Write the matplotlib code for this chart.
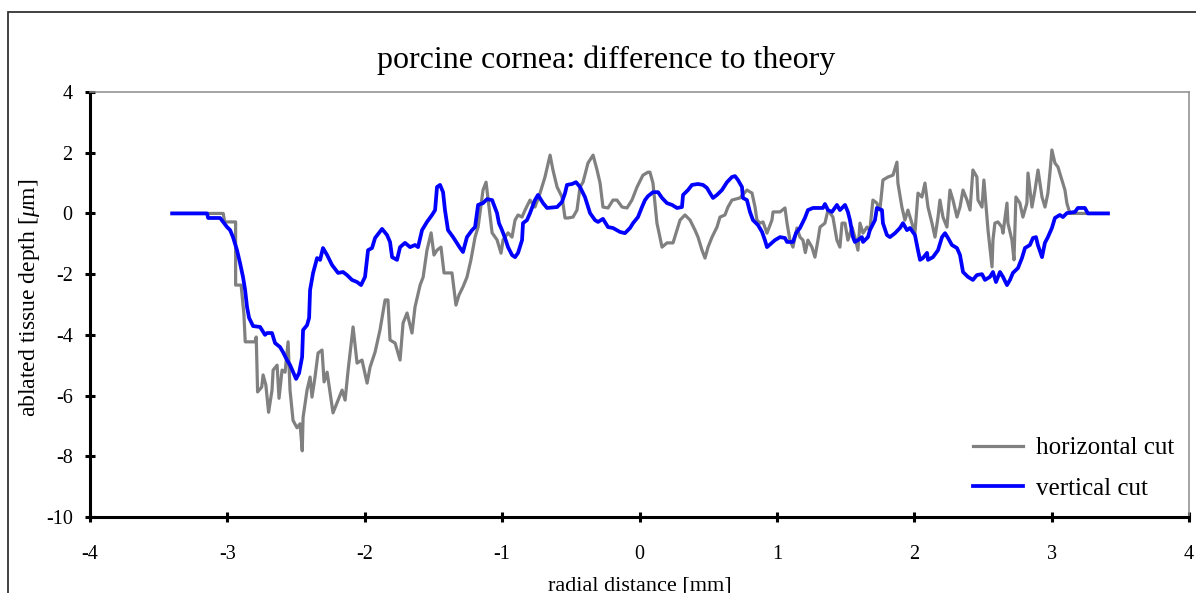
import numpy as np
import matplotlib
matplotlib.use('Agg')
import matplotlib.pyplot as plt
from matplotlib.patches import Rectangle

plt.rcParams['font.family'] = ['Liberation Serif', 'DejaVu Serif']
plt.rcParams['axes.unicode_minus'] = False
plt.rcParams['mathtext.fontset'] = 'custom'
plt.rcParams['mathtext.rm'] = 'Liberation Serif'
plt.rcParams['mathtext.it'] = 'Liberation Serif:italic'

# (radial distance [mm], depth difference [um]) along each cut
HORIZONTAL_CUT = [
    (-3.40, 0.00), (-3.03, 0.00), (-3.02, -0.28), (-2.94, -0.28), (-2.94, -2.36), (-2.90, -2.36), (-2.88, -3.30), (-2.87, -4.23), (-2.80, -4.23), (-2.79, -4.07),
    (-2.78, -5.88), (-2.75, -5.72), (-2.74, -5.32), (-2.72, -5.65), (-2.70, -6.55), (-2.675, -5.82), (-2.667, -5.16), (-2.638, -5.00), (-2.624, -6.09), (-2.602, -5.16),
    (-2.580, -5.23), (-2.558, -4.23), (-2.544, -5.82), (-2.522, -6.82), (-2.493, -7.06), (-2.471, -6.93), (-2.455, -7.82), (-2.449, -6.72), (-2.420, -5.82), (-2.398, -5.39),
    (-2.384, -6.05), (-2.362, -5.39), (-2.340, -4.60), (-2.311, -4.50), (-2.296, -5.55), (-2.274, -5.23), (-2.231, -6.57), (-2.194, -6.15), (-2.165, -5.82), (-2.143, -6.15),
    (-2.121, -5.16), (-2.085, -3.74), (-2.056, -4.93), (-2.020, -4.83), (-1.983, -5.59), (-1.961, -5.06), (-1.925, -4.57), (-1.889, -3.84), (-1.852, -2.85), (-1.831, -2.85),
    (-1.816, -4.17), (-1.779, -4.27), (-1.743, -4.83), (-1.721, -3.61), (-1.692, -3.28), (-1.656, -3.94), (-1.634, -3.08), (-1.597, -2.36), (-1.575, -2.10), (-1.547, -1.21),
    (-1.517, -0.64), (-1.496, -1.37), (-1.474, -1.21), (-1.445, -1.11), (-1.423, -1.96), (-1.365, -1.96), (-1.336, -3.02), (-1.314, -2.69), (-1.285, -2.42), (-1.256, -2.10),
    (-1.227, -1.53), (-1.197, -0.78), (-1.175, -0.45), (-1.139, 0.77), (-1.117, 1.03), (-1.095, 0.21), (-1.073, -0.64), (-1.037, -0.87), (-1.008, -1.31), (-0.993, -0.87),
    (-0.957, -0.64), (-0.928, -0.78), (-0.906, -0.22), (-0.884, -0.05), (-0.855, -0.12), (-0.833, 0.11), (-0.797, 0.44), (-0.761, 0.21), (-0.724, 0.67), (-0.688, 1.20),
    (-0.651, 1.92), (-0.630, 1.43), (-0.600, 0.87), (-0.564, 0.54), (-0.542, -0.15), (-0.520, -0.15), (-0.484, -0.12), (-0.455, 0.11), (-0.433, 0.87), (-0.411, 1.03),
    (-0.375, 1.66), (-0.338, 1.92), (-0.309, 1.43), (-0.287, 1.00), (-0.266, 0.21), (-0.229, 0.18), (-0.193, 0.44), (-0.164, 0.44), (-0.127, 0.21), (-0.091, 0.18),
    (-0.055, 0.44), (-0.018, 0.87), (0.025, 1.26), (0.062, 1.36), (0.076, 1.36), (0.098, 1.00), (0.127, -0.32), (0.164, -1.11), (0.200, -0.97), (0.244, -0.97),
    (0.273, -0.55), (0.295, -0.22), (0.331, -0.05), (0.368, -0.22), (0.404, -0.55), (0.426, -0.78), (0.455, -1.21), (0.477, -1.47), (0.499, -1.11), (0.528, -0.78),
    (0.564, -0.45), (0.586, -0.12), (0.622, -0.05), (0.644, 0.21), (0.673, 0.44), (0.731, 0.51), (0.782, 0.77), (0.819, 0.67), (0.841, 0.21), (0.855, -0.22),
    (0.877, -0.32), (0.899, -0.28), (0.928, -0.65), (0.964, -0.22), (0.972, 0.05), (1.023, 0.05), (1.059, 0.18), (1.074, -0.32), (1.095, -0.88), (1.117, -1.11),
    (1.146, -0.48), (1.168, -0.78), (1.190, -0.88), (1.207, -1.29), (1.226, -0.88), (1.255, -1.11), (1.277, -1.44), (1.299, -0.88), (1.314, -0.45), (1.350, -0.32),
    (1.372, 0.11), (1.408, -0.12), (1.437, -0.88), (1.459, -1.11), (1.474, -0.32), (1.496, -0.32), (1.517, -0.88), (1.547, -0.45), (1.568, -0.78), (1.590, -1.21),
    (1.605, -0.32), (1.627, -0.65), (1.656, -0.45), (1.677, -0.55), (1.699, 0.44), (1.728, 0.34), (1.750, 0.11), (1.772, 1.10), (1.809, 1.20), (1.845, 1.26),
    (1.874, 1.69), (1.881, 1.00), (1.910, 0.21), (1.932, -0.22), (1.954, 0.11), (1.983, -0.32), (2.005, -0.65), (2.027, 0.67), (2.056, 0.54), (2.078, 1.00),
    (2.100, 0.21), (2.129, -0.32), (2.151, -0.78), (2.173, -0.12), (2.187, 0.44), (2.209, -0.12), (2.238, -0.45), (2.260, 0.77), (2.282, 0.44), (2.311, -0.12),
    (2.333, 0.21), (2.355, 0.77), (2.384, 0.44), (2.406, 0.11), (2.427, 1.43), (2.456, 1.20), (2.464, 0.44), (2.493, 0.21), (2.507, 1.10), (2.529, -0.12),
    (2.537, -0.55), (2.566, -1.76), (2.573, -0.88), (2.587, -0.32), (2.609, -0.28), (2.638, -0.45), (2.646, -0.65), (2.675, 0.34), (2.682, -0.32), (2.711, -0.88),
    (2.726, -1.53), (2.740, 0.54), (2.769, 0.34), (2.791, -0.12), (2.820, 0.34), (2.828, 1.33), (2.857, 0.21), (2.879, 0.77), (2.901, 1.43), (2.930, 0.54),
    (2.952, 0.21), (2.973, 0.67), (2.988, 1.36), (3.002, 2.09), (3.024, 1.66), (3.046, 1.53), (3.075, 1.10), (3.097, 0.77), (3.111, 0.34), (3.133, 0.00),
    (3.410, 0.00),
]

VERTICAL_CUT = [
    (-3.402, 0.00), (-3.148, 0.00), (-3.140, -0.15), (-3.053, -0.15), (-3.031, -0.28), (-3.002, -0.45), (-2.980, -0.55), (-2.959, -0.78), (-2.930, -1.21), (-2.908, -1.63),
    (-2.886, -2.10), (-2.871, -2.52), (-2.857, -3.08), (-2.842, -3.44), (-2.813, -3.71), (-2.762, -3.74), (-2.726, -4.00), (-2.711, -3.94), (-2.675, -3.94), (-2.653, -4.27),
    (-2.617, -4.40), (-2.595, -4.57), (-2.566, -4.83), (-2.544, -4.99), (-2.522, -5.22), (-2.500, -5.45), (-2.478, -5.26), (-2.456, -4.73), (-2.449, -3.84), (-2.420, -3.68),
    (-2.405, -3.44), (-2.398, -2.52), (-2.376, -1.96), (-2.347, -1.47), (-2.325, -1.53), (-2.304, -1.14), (-2.274, -1.37), (-2.238, -1.70), (-2.194, -1.96), (-2.158, -1.93),
    (-2.129, -2.03), (-2.093, -2.19), (-2.056, -2.26), (-2.027, -2.36), (-1.998, -2.09), (-1.976, -1.21), (-1.947, -1.14), (-1.925, -0.81), (-1.874, -0.51), (-1.838, -0.71),
    (-1.816, -0.94), (-1.801, -1.44), (-1.765, -1.53), (-1.743, -1.11), (-1.707, -0.97), (-1.670, -1.11), (-1.634, -1.04), (-1.612, -1.11), (-1.583, -0.55), (-1.547, -0.28),
    (-1.510, -0.05), (-1.488, 0.11), (-1.474, 0.87), (-1.452, 0.94), (-1.430, 0.70), (-1.416, 0.11), (-1.394, -0.55), (-1.357, -0.78), (-1.306, -1.14), (-1.285, -1.27),
    (-1.256, -0.78), (-1.219, -0.55), (-1.197, -0.45), (-1.175, 0.28), (-1.139, 0.34), (-1.110, 0.47), (-1.073, 0.44), (-1.037, 0.01), (-1.023, -0.32), (-1.001, -0.55),
    (-0.979, -0.81), (-0.957, -1.11), (-0.928, -1.37), (-0.906, -1.44), (-0.884, -1.30), (-0.855, -0.88), (-0.848, -0.32), (-0.819, -0.22), (-0.797, 0.01), (-0.761, 0.44),
    (-0.739, 0.61), (-0.702, 0.34), (-0.673, 0.18), (-0.600, 0.21), (-0.564, 0.38), (-0.542, 0.67), (-0.528, 0.94), (-0.491, 0.97), (-0.462, 1.03), (-0.433, 0.87),
    (-0.397, 0.54), (-0.360, 0.01), (-0.324, -0.22), (-0.302, -0.28), (-0.266, -0.18), (-0.229, -0.45), (-0.193, -0.48), (-0.142, -0.61), (-0.106, -0.65), (-0.069, -0.48),
    (-0.047, -0.32), (-0.011, -0.12), (0.018, 0.21), (0.040, 0.44), (0.062, 0.57), (0.098, 0.70), (0.135, 0.70), (0.164, 0.51), (0.200, 0.34), (0.237, 0.28),
    (0.273, 0.18), (0.309, 0.21), (0.317, 0.61), (0.353, 0.77), (0.382, 0.94), (0.426, 0.97), (0.462, 0.94), (0.491, 0.84), (0.513, 0.67), (0.535, 0.51),
    (0.564, 0.61), (0.600, 0.77), (0.637, 1.03), (0.673, 1.20), (0.695, 1.23), (0.717, 1.10), (0.746, 0.87), (0.753, 0.51), (0.782, 0.44), (0.804, 0.05),
    (0.826, -0.22), (0.862, -0.38), (0.892, -0.61), (0.913, -0.88), (0.928, -1.11), (0.964, -0.97), (0.986, -0.88), (1.023, -0.78), (1.059, -0.81), (1.074, -0.94),
    (1.117, -0.94), (1.139, -0.65), (1.168, -0.48), (1.204, -0.15), (1.226, 0.11), (1.263, 0.18), (1.335, 0.18), (1.350, 0.31), (1.372, 0.11), (1.401, 0.05),
    (1.437, 0.28), (1.459, 0.11), (1.496, 0.28), (1.517, 0.05), (1.532, -0.22), (1.554, -0.78), (1.568, -0.94), (1.590, -0.88), (1.619, -0.78), (1.627, -0.94),
    (1.663, -0.78), (1.677, -0.55), (1.714, -0.22), (1.728, 0.18), (1.765, 0.11), (1.772, -0.32), (1.801, -0.71), (1.823, -0.78), (1.860, -0.65), (1.896, -0.48),
    (1.918, -0.32), (1.947, -0.55), (1.969, -0.48), (2.005, -0.71), (2.027, -1.21), (2.042, -1.53), (2.063, -1.47), (2.093, -1.30), (2.100, -1.53), (2.136, -1.44),
    (2.173, -1.21), (2.202, -0.78), (2.224, -0.65), (2.246, -0.81), (2.274, -1.04), (2.311, -1.14), (2.333, -1.37), (2.355, -1.93), (2.391, -2.09), (2.427, -2.19),
    (2.456, -2.03), (2.493, -2.00), (2.515, -2.19), (2.551, -2.09), (2.573, -1.93), (2.595, -2.26), (2.624, -1.93), (2.646, -2.09), (2.675, -2.36), (2.697, -2.19),
    (2.718, -1.96), (2.755, -1.80), (2.784, -1.47), (2.806, -1.14), (2.842, -1.04), (2.864, -0.81), (2.886, -0.78), (2.900, -1.04), (2.930, -1.44), (2.951, -0.97),
    (2.973, -0.78), (3.002, -0.48), (3.024, -0.15), (3.060, -0.05), (3.082, -0.12), (3.111, 0.01), (3.170, 0.05), (3.191, 0.18), (3.242, 0.18), (3.264, 0.00),
    (3.410, 0.00),
]

X_TICKS = list(range(-4, 5))
Y_TICKS = list(range(-10, 5, 2))
LABELS = ['horizontal cut', 'vertical cut']
COLORS = ['#808080', '#0000ff']
W, H = 1196, 593


def main():
    fig = plt.figure(figsize=(W / 100, H / 100), dpi=100)
    ax = fig.add_axes([90 / W, 1 - 517 / H, 1099 / W, 425 / H])

    hx, hy = np.array(HORIZONTAL_CUT).T
    vx, vy = np.array(VERTICAL_CUT).T
    ax.plot(hx, hy, color=COLORS[0], lw=2.3, label=LABELS[0], solid_joinstyle='round')
    ax.plot(vx, vy, color=COLORS[1], lw=2.7, label=LABELS[1], solid_joinstyle='round')

    ax.set_xlim(-4, 4)
    ax.set_ylim(-10, 4)
    ax.set_xticks(X_TICKS)
    ax.set_yticks(Y_TICKS)
    for side in ['left', 'bottom']:
        ax.spines[side].set_linewidth(2.2)
        ax.spines[side].set_color('k')
    for side in ['top', 'right']:
        ax.spines[side].set_linewidth(1.1)
        ax.spines[side].set_color('#8c8c8c')
    ax.tick_params(direction='inout', length=7, width=2.2, labelsize=14.5)
    ax.tick_params(axis='x', pad=17)
    ax.tick_params(axis='y', pad=9)

    ax.legend(loc='upper left', bbox_to_anchor=((973 - 90) / 1099, (517 - 437) / 425),
              frameon=False, fontsize=18, borderpad=0, borderaxespad=0,
              handlelength=2.0, handletextpad=0.5, labelspacing=0.72)

    fig.text(606 / W, 1 - 60 / H, 'porcine cornea: difference to theory',
             ha='center', va='center', fontsize=23)
    fig.text(30 / W, 1 - 298 / H, r'ablated tissue depth [$\mu$m]',
             ha='center', va='center', rotation=90, fontsize=17)
    fig.text(640 / W, 1 - 590 / H, 'radial distance [mm]',
             ha='center', va='baseline', fontsize=16)

    # chart border, runs off the right and bottom edges
    fig.add_artist(Rectangle((8 / W, -0.1), 1.2, 1 - 12.5 / H + 0.1,
                             transform=fig.transFigure, fill=False,
                             ec='#333333', lw=1.3))

    plt.savefig('out.png', dpi=100)


if __name__ == '__main__':
    main()
